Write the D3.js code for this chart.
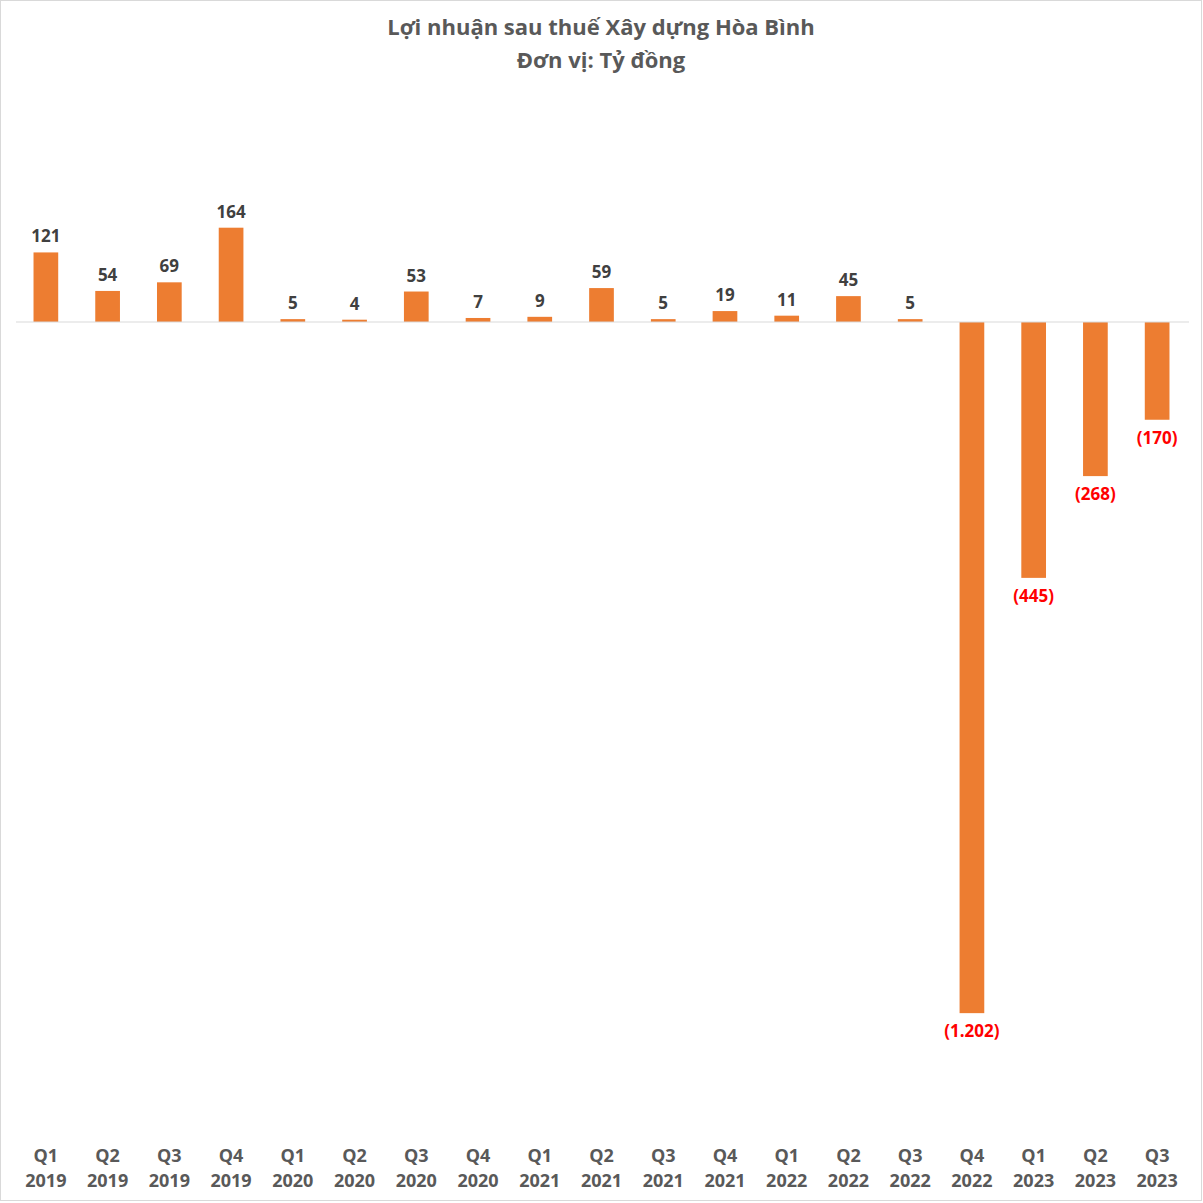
<!DOCTYPE html>
<html lang="vi">
<head>
  <meta charset="UTF-8" />
  <title>Lợi nhuận sau thuế Xây dựng Hòa Bình</title>
  <style>
    body {
      margin: 0;
      background: white;
      font-family: 'Open Sans', 'Noto Sans', Arial, sans-serif;
    }
    svg text { font-weight: 700; }
  </style>
</head>
<body>
  <svg width="1203" height="1203"></svg>

  <script src="https://d3js.org/d3.v7.min.js"></script>
  <script>
    const quarters = ["Q1", "Q2", "Q3", "Q4", "Q1", "Q2", "Q3", "Q4", "Q1", "Q2",
                      "Q3", "Q4", "Q1", "Q2", "Q3", "Q4", "Q1", "Q2", "Q3"];
    const years = ["2019", "2019", "2019", "2019", "2020", "2020", "2020", "2020",
                   "2021", "2021", "2021", "2021", "2022", "2022", "2022", "2022",
                   "2023", "2023", "2023"];
    const profits = [121, 54, 69, 164, 5, 4, 53, 7, 9, 59, 5, 19, 11, 45, 5,
                     -1202, -445, -268, -170];
    const titleLines = ["Lợi nhuận sau thuế Xây dựng Hòa Bình", "Đơn vị: Tỷ đồng"];

    const width = 1203, height = 1203;
    const keys = quarters.map((q, i) => i);

    const svg = d3.select("svg");

    // outer frame
    svg.append("rect")
      .attr("x", 0.5).attr("y", 0.5)
      .attr("width", width - 2).attr("height", height - 3)
      .attr("fill", "white")
      .attr("stroke", "#d9d9d9");

    svg.selectAll("text.title")
      .data(titleLines)
      .join("text")
        .attr("class", "title")
        .attr("x", 601)
        .attr("y", (d, i) => 35 + i * 33)
        .attr("text-anchor", "middle")
        .attr("fill", "#595959")
        .style("font-size", "22px")
        .text(d => d);

    const x = d3.scaleBand()
      .domain(keys)
      .range([15, 1188])
      .paddingInner(0.6)
      .paddingOuter(0.3);

    const y = d3.scaleLinear()
      .domain([-1400, 200])
      .range([1127, 207]);

    const fmt = v => {
      const s = d3.format(",")(Math.abs(v)).replace(/,/g, ".");
      return v < 0 ? `(${s})` : s;
    };

    svg.selectAll("rect.bar")
      .data(profits)
      .join("rect")
        .attr("class", "bar")
        .attr("x", (d, i) => x(i))
        .attr("width", x.bandwidth())
        .attr("y", d => y(Math.max(0, d)))
        .attr("height", d => Math.abs(y(d) - y(0)))
        .attr("fill", "#ED7D31");

    // baseline
    svg.append("line")
      .attr("x1", 16).attr("x2", 1189)
      .attr("y1", y(0)).attr("y2", y(0))
      .attr("stroke", "#d9d9d9")
      .attr("stroke-width", 1);

    svg.selectAll("text.value")
      .data(profits)
      .join("text")
        .attr("class", "value")
        .attr("x", (d, i) => x(i) + x.bandwidth() / 2)
        .attr("y", d => d >= 0 ? y(d) - 10 : y(d) + 24)
        .attr("text-anchor", "middle")
        .attr("fill", d => d >= 0 ? "#404040" : "#FF0000")
        .style("font-size", "17px")
        .text(fmt);

    const xAxis = svg.append("g");
    keys.forEach(i => {
      const cx = x(i) + x.bandwidth() / 2;
      xAxis.append("text")
        .attr("x", cx).attr("y", 1162)
        .attr("text-anchor", "middle")
        .attr("fill", "#595959")
        .style("font-size", "18px")
        .text(quarters[i]);
      xAxis.append("text")
        .attr("x", cx).attr("y", 1187)
        .attr("text-anchor", "middle")
        .attr("fill", "#595959")
        .style("font-size", "18px")
        .text(years[i]);
    });
  </script>
</body>
</html>
